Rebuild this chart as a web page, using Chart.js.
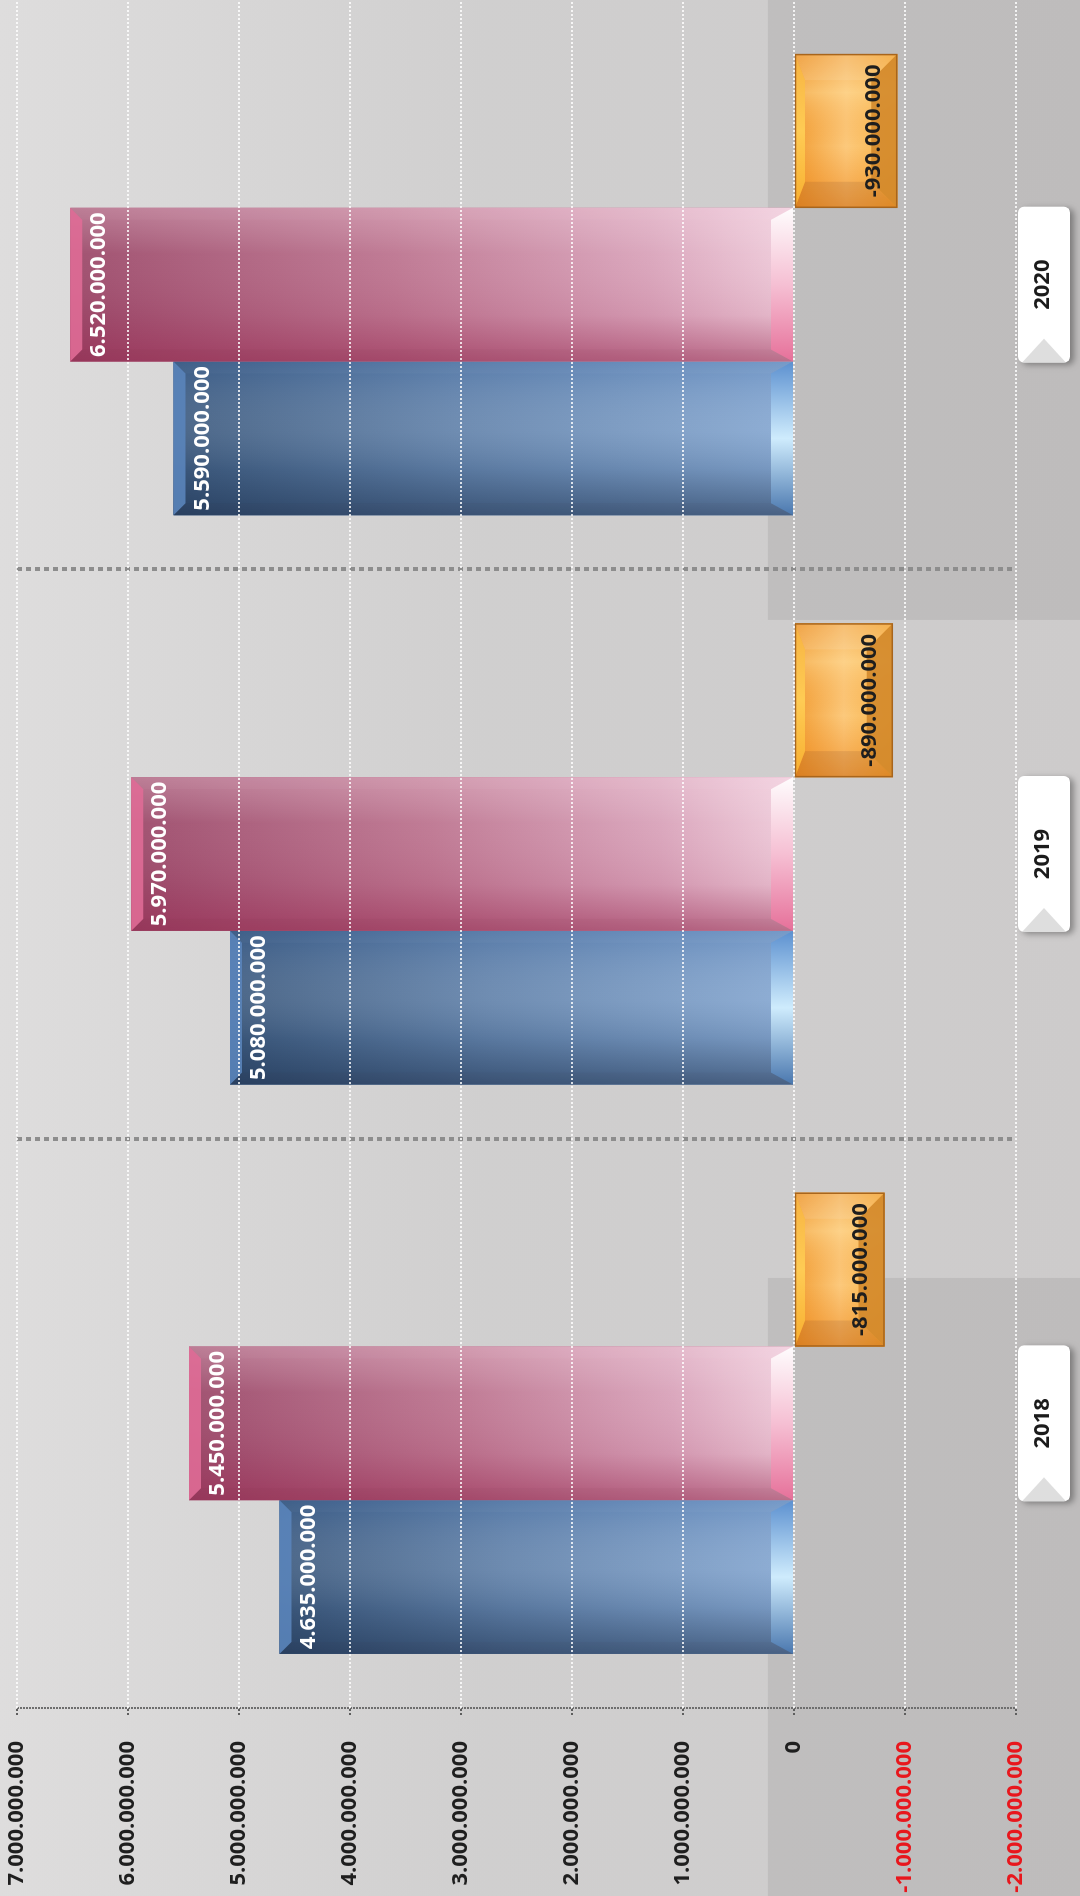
<!DOCTYPE html>
<html>
<head>
<meta charset="utf-8">
<script src="https://cdn.jsdelivr.net/npm/chart.js@4.4.1/dist/chart.umd.min.js"></script>
<style>
  html, body { margin: 0; padding: 0; background: #d3d2d2; overflow: hidden; }
  #wrap { position: relative; width: 1080px; height: 1896px; overflow: hidden; }
  /* chart is drawn upright (1896 x 1080) and turned a quarter to the left */
  #chart { position: absolute; left: 0; top: 0; transform-origin: 0 0;
           transform: translateY(1896px) rotate(-90deg); }
</style>
</head>
<body>
<div id="wrap"><canvas id="chart" width="1896" height="1080"></canvas></div>
<script>
// --- Data ---
const years = ['2018', '2019', '2020'];
const blueValues = [4635000000, 5080000000, 5590000000];
const pinkValues = [5450000000, 5970000000, 6520000000];
const orangeValues = [-815000000, -890000000, -930000000];
const axisMin = -2000000000;
const axisMax = 7000000000;
const axisStep = 1000000000;

function fmt(v) {
  const s = Math.abs(Math.round(v)).toString().replace(/\B(?=(\d{3})+(?!\d))/g, '.');
  return (v < 0 ? '-' : '') + s;
}

const FONT = "'Open Sans', 'DejaVu Sans', sans-serif";

// --- Bar looks (gradients + bevels) ---
const looks = [
  { // blue
    main: [[0, '#3d5a7e'], [0.45, '#6282aa'], [1, '#86a8d2']],
    cross: [[0, 'rgba(25,45,75,0.55)'], [0.3, 'rgba(25,45,75,0.12)'], [0.55, 'rgba(255,255,255,0.08)'], [1, 'rgba(40,90,160,0.22)']],
    end: '#5a84ba', endDepth: 12,
    base: [[0, '#4a78b0'], [0.5, '#d2efff'], [1, '#5b90d0']], baseDepth: 22,
    side: 12, sideA: 0.03, label: '#ffffff'
  },
  { // pink
    main: [[0, '#9c4a6a'], [0.45, '#bd7590'], [0.8, '#d9a3ba'], [1, '#efcbda']],
    cross: [[0, 'rgba(150,40,80,0.55)'], [0.3, 'rgba(150,40,80,0.1)'], [0.7, 'rgba(255,255,255,0.05)'], [1, 'rgba(255,230,240,0.3)']],
    end: '#df6b96', endDepth: 12,
    base: [[0, '#e8709a'], [0.5, '#f6bfd3'], [1, '#ffffff']], baseDepth: 22,
    side: 12, sideA: 0.03, label: '#ffffff'
  },
  { // orange
    main: [[0, '#f9b443'], [0.5, '#fcc97c'], [1, '#f29f36']],
    cross: [[0, 'rgba(235,125,15,0.55)'], [0.4, 'rgba(235,125,15,0)'], [0.75, 'rgba(255,225,160,0.35)'], [1, 'rgba(230,140,40,0.3)']],
    end: '#d3892c', endDepth: 26,
    base: [[0, '#f8b030'], [0.5, '#ffcd55'], [1, '#f7b340']], baseDepth: 10,
    side: 26, sideA: 0.1, label: '#1e1e1e', border: '#a8651c'
  }
];

function grad(ctx, x0, y0, x1, y1, stops) {
  const g = ctx.createLinearGradient(x0, y0, x1, y1);
  stops.forEach(s => g.addColorStop(s[0], s[1]));
  return g;
}

function poly(ctx, pts, fill) {
  ctx.beginPath();
  ctx.moveTo(pts[0][0], pts[0][1]);
  for (let i = 1; i < pts.length; i++) ctx.lineTo(pts[i][0], pts[i][1]);
  ctx.closePath();
  ctx.fillStyle = fill;
  ctx.fill();
}

function paintBar(ctx, look, left, right, endY, baseY) {
  const dir = baseY > endY ? 1 : -1;
  const top = Math.min(endY, baseY), h = Math.abs(baseY - endY);
  ctx.save();
  ctx.fillStyle = grad(ctx, 0, endY, 0, baseY, look.main);
  ctx.fillRect(left, top, right - left, h);
  ctx.fillStyle = grad(ctx, left, 0, right, 0, look.cross);
  ctx.fillRect(left, top, right - left, h);

  const s = look.side;
  const eIn = endY + dir * look.endDepth;
  const bIn = baseY - dir * look.baseDepth;
  // side bevels
  poly(ctx, [[left, endY], [left + s, eIn], [left + s, bIn], [left, baseY]], `rgba(60,20,30,${look.sideA})`);
  poly(ctx, [[right, endY], [right - s, eIn], [right - s, bIn], [right, baseY]], `rgba(255,255,255,${look.sideA})`);
  // end face
  ctx.globalAlpha = 0.9;
  poly(ctx, [[left, endY], [right, endY], [right - s, eIn], [left + s, eIn]], look.end);
  // base face
  ctx.globalAlpha = 0.95;
  poly(ctx, [[left, baseY], [right, baseY], [right - s, bIn], [left + s, bIn]],
       grad(ctx, left, 0, right, 0, look.base));
  ctx.globalAlpha = 1;
  if (look.border) {
    ctx.strokeStyle = look.border;
    ctx.lineWidth = 1.5;
    ctx.strokeRect(left + 0.5, top + 0.5, right - left - 1, h - 1);
  }
  ctx.restore();
}

const barPaint = {
  id: 'barPaint',
  beforeDraw(chart) {
    const { ctx, width, height } = chart;
    ctx.save();
    // backdrop
    ctx.fillStyle = grad(ctx, 0, 0, 0, height, [[0, '#dedddd'], [0.45, '#d0cfcf'], [1, '#cdcbcb']]);
    ctx.fillRect(0, 0, width, height);
    ctx.fillStyle = 'rgba(0,0,0,0.07)';
    ctx.fillRect(width * 0.673, height * 0.711, width * 0.327, height * 0.289);
    ctx.fillRect(0, height * 0.711, width * 0.326, height * 0.289);
    // category label boxes
    const xs = chart.scales.x;
    const area = chart.chartArea;
    years.forEach((y, i) => {
      const cx = xs.getPixelForTick(i);
      const bw = 156, bh = 52, bx = cx - bw / 2, by = area.bottom + 2;
      ctx.save();
      ctx.shadowColor = 'rgba(0,0,0,0.35)';
      ctx.shadowBlur = 6;
      ctx.shadowOffsetX = -2;
      ctx.shadowOffsetY = 4;
      ctx.beginPath();
      ctx.roundRect(bx, by, bw, bh, 6);
      ctx.fillStyle = '#ffffff';
      ctx.fill();
      ctx.restore();
      poly(ctx, [[bx, by + 4], [bx + 24, by + bh / 2], [bx, by + bh - 4]], 'rgba(200,200,200,0.6)');
    });
    ctx.restore();
  },
  afterDatasetsDraw(chart) {
    const ctx = chart.ctx;
    chart.data.datasets.forEach((ds, di) => {
      const look = looks[di];
      chart.getDatasetMeta(di).data.forEach((bar, i) => {
        const p = bar.getProps(['x', 'y', 'base', 'width'], true);
        const left = p.x - p.width / 2, right = p.x + p.width / 2;
        paintBar(ctx, look, left, right, p.y, p.base);
        // value label near the bar end
        ctx.save();
        ctx.font = 'bold 22px ' + FONT;
        ctx.fillStyle = look.label;
        ctx.textAlign = 'center';
        ctx.textBaseline = 'alphabetic';
        const v = ds.data[i];
        const ty = v >= 0 ? p.y + 35 : p.y - 17;
        ctx.fillText(fmt(v), p.x, ty);
        ctx.restore();
      });
    });
  }
};

// --- Chart ---
const ctx = document.getElementById('chart').getContext('2d');
const chart = new Chart(ctx, {
  type: 'bar',
  data: {
    labels: years,
    datasets: [
      { label: 'Serie 1', data: blueValues, backgroundColor: '#5f7fa8' },
      { label: 'Serie 2', data: pinkValues, backgroundColor: '#c07590' },
      { label: 'Serie 3', data: orangeValues, backgroundColor: '#f8b555' }
    ]
  },
  options: {
    responsive: false,
    maintainAspectRatio: false,
    animation: false,
    devicePixelRatio: 1,
    categoryPercentage: 0.81,
    barPercentage: 1,
    layout: { padding: { top: 17, right: 0, bottom: 0, left: 0 } },
    plugins: { legend: { display: false }, tooltip: { enabled: false } },
    scales: {
      x: {
        afterFit: s => { s.height = 64; s.paddingLeft = 0; s.paddingRight = 0; },
        grid: {
          offset: true,
          drawTicks: false,
          color: c => c.index === 0 ? '#6e6e6e' : (c.index === undefined ? 'rgba(0,0,0,0)' : '#8d8d8d'),
          lineWidth: c => c.index === 0 ? 2 : 4
        },
        border: { display: false, dash: c => c.index === 0 ? [2, 1] : [5, 4] },
        ticks: {
          padding: 14,
          color: '#1b1b1b',
          font: { family: FONT, size: 22, weight: 'bold' }
        }
      },
      y: {
        min: axisMin,
        max: axisMax,
        afterFit: s => { s.width = 188; s.paddingTop = 0; s.paddingBottom = 0; },
        grid: {
          z: 1,
          color: 'rgba(255,255,255,0.8)',
          lineWidth: 2,
          tickLength: 7,
          tickColor: '#5e5e5e',
          tickWidth: 2,
          tickBorderDash: [2, 2]
        },
        border: { display: false, dash: [2, 2] },
        ticks: {
          stepSize: axisStep,
          padding: 26,
          color: c => c.tick.value < 0 ? '#e8171d' : '#1f1f1f',
          font: { family: FONT, size: 22, weight: 'bold' },
          callback: v => fmt(v)
        }
      }
    }
  },
  plugins: [barPaint]
});
</script>
</body>
</html>
